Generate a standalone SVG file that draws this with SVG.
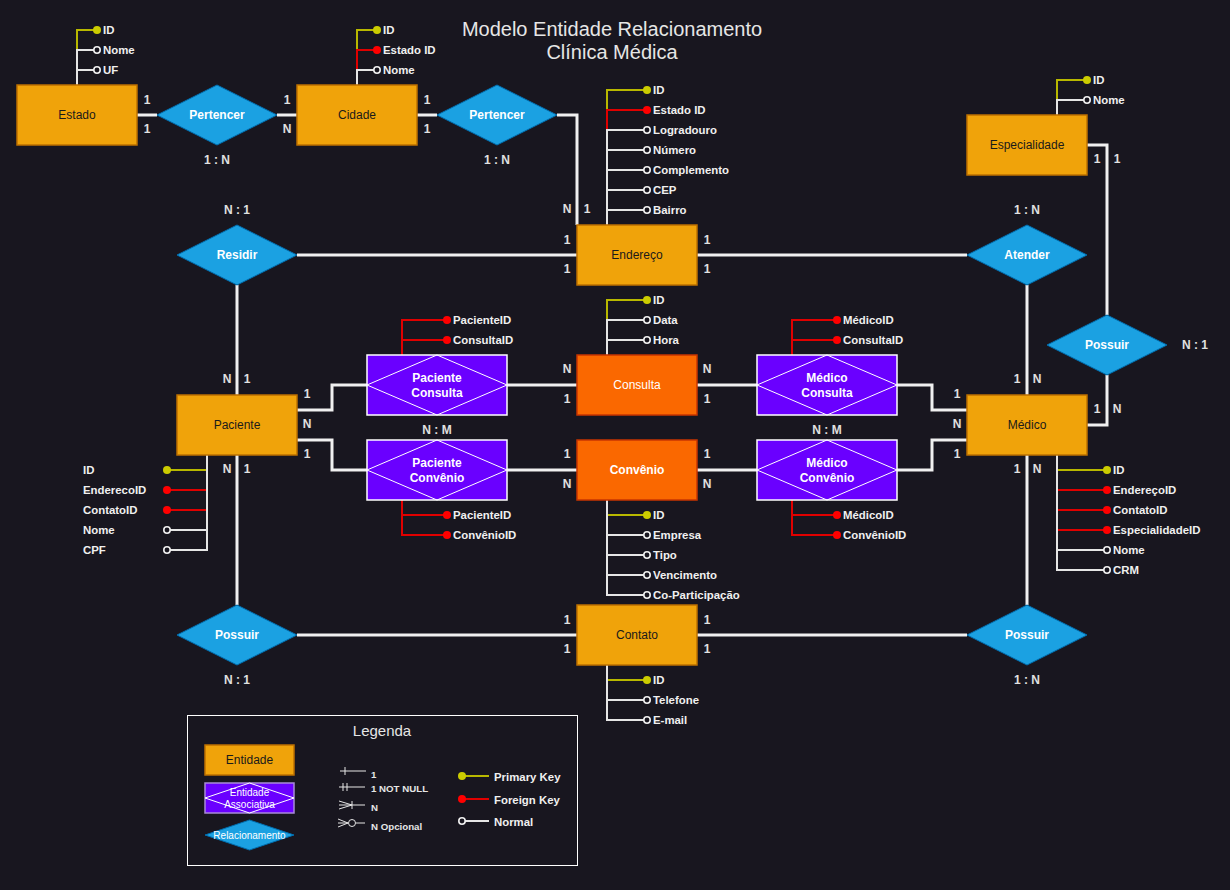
<svg xmlns="http://www.w3.org/2000/svg" width="1230" height="890" viewBox="0 0 1230 890">
<style>
text{font-family:"Liberation Sans",Arial,sans-serif}
.ent{fill:#f0a30a;stroke:#bd7000;stroke-width:1.5}
.ent2{fill:#fa6800;stroke:#c73500;stroke-width:1.5}
.assoc{fill:#6a00ff;stroke:#ffffff;stroke-width:1.5}
.ad{fill:none;stroke:#ffffff;stroke-width:1}
.rel{fill:#1ba1e2;stroke:#006eaf;stroke-width:1}
.conn{fill:none;stroke:#f0f0f0;stroke-width:3}
.pk{fill:none;stroke:#b8b800;stroke-width:2}
.fk{fill:none;stroke:#e00000;stroke-width:2}
.nm{fill:none;stroke:#e6e6e6;stroke-width:2}
.pkd{fill:#cccc00}
.fkd{fill:#ff0000}
.nmd{fill:#18161f;stroke:#f0f0f0;stroke-width:1.6}
.t{font-size:12px;fill:#1a1a1a;text-anchor:middle}
.tw{font-size:12px;fill:#ffffff;font-weight:bold;text-anchor:middle}
.tc{font-size:12px;fill:#ffffff;text-anchor:middle}
.at{font-size:11.4px;fill:#f0f0f0;font-weight:bold}
.card{font-size:12px;fill:#e0e0e0;font-weight:bold;text-anchor:middle}
.sym{fill:none;stroke:#e6e6e6;stroke-width:1}
.st{font-size:9.7px;fill:#e6e6e6;font-weight:bold}
</style>
<rect x="0" y="0" width="1230" height="890" fill="#18161f"/>

<g id="title">
<text x="612" y="36" font-size="20" fill="#e6e6e6" text-anchor="middle">Modelo Entidade Relacionamento</text>
<text x="612" y="59" font-size="20" fill="#e6e6e6" text-anchor="middle">Clínica Médica</text>
</g>

<g id="connectors">
<path class="conn" d="M137 115 H157"/>
<path class="conn" d="M277 115 H297"/>
<path class="conn" d="M417 115 H437"/>
<path class="conn" d="M557 115 H577 V225"/>
<path class="conn" d="M297 255 H577"/>
<path class="conn" d="M697 255 H967"/>
<path class="conn" d="M237 285 V395"/>
<path class="conn" d="M1027 285 V395"/>
<path class="conn" d="M1087 145 H1107 V315"/>
<path class="conn" d="M1107 375 V425 H1087"/>
<path class="conn" d="M237 455 V605"/>
<path class="conn" d="M1027 455 V605"/>
<path class="conn" d="M297 635 H577"/>
<path class="conn" d="M697 635 H967"/>
<path class="conn" d="M297 410 H332 V385 H367"/>
<path class="conn" d="M297 440 H332 V470 H367"/>
<path class="conn" d="M507 385 H577"/>
<path class="conn" d="M507 470 H577"/>
<path class="conn" d="M697 385 H757"/>
<path class="conn" d="M697 470 H757"/>
<path class="conn" d="M897 385 H932 V410 H967"/>
<path class="conn" d="M897 470 H932 V440 H967"/>
</g>

<g id="cardinalities">
<text class="card" x="147" y="104">1</text><text class="card" x="147" y="133">1</text>
<text class="card" x="287" y="104">1</text><text class="card" x="287" y="133">N</text>
<text class="card" x="217" y="164">1 : N</text>
<text class="card" x="427" y="104">1</text><text class="card" x="427" y="133">1</text>
<text class="card" x="497" y="164">1 : N</text>
<text class="card" x="567" y="213">N</text><text class="card" x="587" y="213">1</text>
<text class="card" x="567" y="244">1</text><text class="card" x="567" y="273">1</text>
<text class="card" x="707" y="244">1</text><text class="card" x="707" y="273">1</text>
<text class="card" x="237" y="214">N : 1</text>
<text class="card" x="1027" y="214">1 : N</text>
<text class="card" x="1097" y="163">1</text><text class="card" x="1117" y="163">1</text>
<text class="card" x="1195" y="349">N : 1</text>
<text class="card" x="227" y="383">N</text><text class="card" x="247" y="383">1</text>
<text class="card" x="307" y="398">1</text><text class="card" x="307" y="428">N</text><text class="card" x="307" y="458">1</text>
<text class="card" x="227" y="473">N</text><text class="card" x="247" y="473">1</text>
<text class="card" x="567" y="373">N</text><text class="card" x="567" y="403">1</text>
<text class="card" x="567" y="458">1</text><text class="card" x="567" y="488">N</text>
<text class="card" x="437" y="434">N : M</text>
<text class="card" x="707" y="373">N</text><text class="card" x="707" y="403">1</text>
<text class="card" x="707" y="458">1</text><text class="card" x="707" y="488">N</text>
<text class="card" x="827" y="434">N : M</text>
<text class="card" x="957" y="398">1</text><text class="card" x="957" y="428">N</text><text class="card" x="957" y="458">1</text>
<text class="card" x="1017" y="383">1</text><text class="card" x="1037" y="383">N</text>
<text class="card" x="1097" y="413">1</text><text class="card" x="1117" y="413">N</text>
<text class="card" x="1017" y="473">1</text><text class="card" x="1037" y="473">N</text>
<text class="card" x="567" y="624">1</text><text class="card" x="567" y="653">1</text>
<text class="card" x="707" y="624">1</text><text class="card" x="707" y="653">1</text>
<text class="card" x="237" y="684">N : 1</text>
<text class="card" x="1027" y="684">1 : N</text>
</g>

<g id="estado">
<path class="pk" d="M77 85 V30 H97"/><path class="nm" d="M77 85 V50 H97"/><path class="nm" d="M77 85 V70 H97"/>
<circle class="pkd" cx="97" cy="30" r="4"/><circle class="nmd" cx="97" cy="50" r="3.2"/><circle class="nmd" cx="97" cy="70" r="3.2"/>
<text class="at" x="103" y="33.5">ID</text><text class="at" x="103" y="53.5">Nome</text><text class="at" x="103" y="73.5">UF</text>
<rect class="ent" x="17" y="85" width="120" height="60"/>
<text class="t" x="77" y="119">Estado</text>
</g>

<g id="pertencer1">
<polygon class="rel" points="157,115 217,85 277,115 217,145"/>
<text class="tw" x="217" y="119">Pertencer</text>
</g>

<g id="cidade">
<path class="pk" d="M357 85 V30 H377"/><path class="fk" d="M357 85 V50 H377"/><path class="nm" d="M357 85 V70 H377"/>
<circle class="pkd" cx="377" cy="30" r="4"/><circle class="fkd" cx="377" cy="50" r="4"/><circle class="nmd" cx="377" cy="70" r="3.2"/>
<text class="at" x="383" y="33.5">ID</text><text class="at" x="383" y="53.5">Estado ID</text><text class="at" x="383" y="73.5">Nome</text>
<rect class="ent" x="297" y="85" width="120" height="60"/>
<text class="t" x="357" y="119">Cidade</text>
</g>

<g id="pertencer2">
<polygon class="rel" points="437,115 497,85 557,115 497,145"/>
<text class="tw" x="497" y="119">Pertencer</text>
</g>

<g id="endereco">
<path class="pk" d="M607 225 V90 H647"/>
<path class="fk" d="M607 225 V110 H647"/>
<path class="nm" d="M607 225 V130 H647"/>
<path class="nm" d="M607 225 V150 H647"/>
<path class="nm" d="M607 225 V170 H647"/>
<path class="nm" d="M607 225 V190 H647"/>
<path class="nm" d="M607 225 V210 H647"/>
<circle class="pkd" cx="647" cy="90" r="4"/><circle class="fkd" cx="647" cy="110" r="4"/>
<circle class="nmd" cx="647" cy="130" r="3.2"/><circle class="nmd" cx="647" cy="150" r="3.2"/><circle class="nmd" cx="647" cy="170" r="3.2"/><circle class="nmd" cx="647" cy="190" r="3.2"/><circle class="nmd" cx="647" cy="210" r="3.2"/>
<text class="at" x="653" y="93.5">ID</text><text class="at" x="653" y="113.5">Estado ID</text><text class="at" x="653" y="133.5">Logradouro</text><text class="at" x="653" y="153.5">Número</text><text class="at" x="653" y="173.5">Complemento</text><text class="at" x="653" y="193.5">CEP</text><text class="at" x="653" y="213.5">Bairro</text>
<rect class="ent" x="577" y="225" width="120" height="60"/>
<text class="t" x="637" y="259">Endereço</text>
</g>

<g id="especialidade">
<path class="pk" d="M1057 115 V80 H1087"/><path class="nm" d="M1057 115 V100 H1087"/>
<circle class="pkd" cx="1087" cy="80" r="4"/><circle class="nmd" cx="1087" cy="100" r="3.2"/>
<text class="at" x="1093" y="83.5">ID</text><text class="at" x="1093" y="103.5">Nome</text>
<rect class="ent" x="967" y="115" width="120" height="60"/>
<text class="t" x="1027" y="149">Especialidade</text>
</g>

<g id="residir">
<polygon class="rel" points="177,255 237,225 297,255 237,285"/>
<text class="tw" x="237" y="259">Residir</text>
</g>

<g id="atender">
<polygon class="rel" points="967,255 1027,225 1087,255 1027,285"/>
<text class="tw" x="1027" y="259">Atender</text>
</g>

<g id="possuir-especialidade">
<polygon class="rel" points="1047,345 1107,315 1167,345 1107,375"/>
<text class="tw" x="1107" y="349">Possuir</text>
</g>

<g id="consulta">
<path class="pk" d="M607 355 V300 H647"/><path class="nm" d="M607 355 V320 H647"/><path class="nm" d="M607 355 V340 H647"/>
<circle class="pkd" cx="647" cy="300" r="4"/><circle class="nmd" cx="647" cy="320" r="3.2"/><circle class="nmd" cx="647" cy="340" r="3.2"/>
<text class="at" x="653" y="303.5">ID</text><text class="at" x="653" y="323.5">Data</text><text class="at" x="653" y="343.5">Hora</text>
<rect class="ent2" x="577" y="355" width="120" height="60"/>
<text class="tc" x="637" y="389">Consulta</text>
</g>

<g id="convenio">
<path class="pk" d="M607 500 V515 H647"/><path class="nm" d="M607 500 V535 H647"/><path class="nm" d="M607 500 V555 H647"/><path class="nm" d="M607 500 V575 H647"/><path class="nm" d="M607 500 V595 H647"/>
<circle class="pkd" cx="647" cy="515" r="4"/><circle class="nmd" cx="647" cy="535" r="3.2"/><circle class="nmd" cx="647" cy="555" r="3.2"/><circle class="nmd" cx="647" cy="575" r="3.2"/><circle class="nmd" cx="647" cy="595" r="3.2"/>
<text class="at" x="653" y="518.5">ID</text><text class="at" x="653" y="538.5">Empresa</text><text class="at" x="653" y="558.5">Tipo</text><text class="at" x="653" y="578.5">Vencimento</text><text class="at" x="653" y="598.5">Co-Participação</text>
<rect class="ent2" x="577" y="440" width="120" height="60"/>
<text class="tw" x="637" y="474">Convênio</text>
</g>

<g id="paciente-consulta">
<path class="fk" d="M402 355 V320 H447"/><path class="fk" d="M402 355 V340 H447"/>
<circle class="fkd" cx="447" cy="320" r="4"/><circle class="fkd" cx="447" cy="340" r="4"/>
<text class="at" x="453" y="323.5">PacienteID</text><text class="at" x="453" y="343.5">ConsultaID</text>
<rect class="assoc" x="367" y="355" width="140" height="60"/>
<polygon class="ad" points="367,385 437,355 507,385 437,415"/>
<text class="tw" x="437" y="382">Paciente</text><text class="tw" x="437" y="397">Consulta</text>
</g>

<g id="paciente-convenio">
<path class="fk" d="M402 500 V515 H447"/><path class="fk" d="M402 500 V535 H447"/>
<circle class="fkd" cx="447" cy="515" r="4"/><circle class="fkd" cx="447" cy="535" r="4"/>
<text class="at" x="453" y="518.5">PacienteID</text><text class="at" x="453" y="538.5">ConvênioID</text>
<rect class="assoc" x="367" y="440" width="140" height="60"/>
<polygon class="ad" points="367,470 437,440 507,470 437,500"/>
<text class="tw" x="437" y="467">Paciente</text><text class="tw" x="437" y="482">Convênio</text>
</g>

<g id="medico-consulta">
<path class="fk" d="M792 355 V320 H837"/><path class="fk" d="M792 355 V340 H837"/>
<circle class="fkd" cx="837" cy="320" r="4"/><circle class="fkd" cx="837" cy="340" r="4"/>
<text class="at" x="843" y="323.5">MédicoID</text><text class="at" x="843" y="343.5">ConsultaID</text>
<rect class="assoc" x="757" y="355" width="140" height="60"/>
<polygon class="ad" points="757,385 827,355 897,385 827,415"/>
<text class="tw" x="827" y="382">Médico</text><text class="tw" x="827" y="397">Consulta</text>
</g>

<g id="medico-convenio">
<path class="fk" d="M792 500 V515 H837"/><path class="fk" d="M792 500 V535 H837"/>
<circle class="fkd" cx="837" cy="515" r="4"/><circle class="fkd" cx="837" cy="535" r="4"/>
<text class="at" x="843" y="518.5">MédicoID</text><text class="at" x="843" y="538.5">ConvênioID</text>
<rect class="assoc" x="757" y="440" width="140" height="60"/>
<polygon class="ad" points="757,470 827,440 897,470 827,500"/>
<text class="tw" x="827" y="467">Médico</text><text class="tw" x="827" y="482">Convênio</text>
</g>

<g id="paciente">
<path class="pk" d="M207 455 V470 H167"/><path class="fk" d="M207 455 V490 H167"/><path class="fk" d="M207 455 V510 H167"/><path class="nm" d="M207 455 V530 H167"/><path class="nm" d="M207 455 V550 H167"/>
<circle class="pkd" cx="167" cy="470" r="4"/><circle class="fkd" cx="167" cy="490" r="4"/><circle class="fkd" cx="167" cy="510" r="4"/><circle class="nmd" cx="167" cy="530" r="3.2"/><circle class="nmd" cx="167" cy="550" r="3.2"/>
<text class="at" x="83" y="473.5">ID</text><text class="at" x="83" y="493.5">EnderecoID</text><text class="at" x="83" y="513.5">ContatoID</text><text class="at" x="83" y="533.5">Nome</text><text class="at" x="83" y="553.5">CPF</text>
<rect class="ent" x="177" y="395" width="120" height="60"/>
<text class="t" x="237" y="429">Paciente</text>
</g>

<g id="medico">
<path class="pk" d="M1057 455 V470 H1107"/><path class="fk" d="M1057 455 V490 H1107"/><path class="fk" d="M1057 455 V510 H1107"/><path class="fk" d="M1057 455 V530 H1107"/><path class="nm" d="M1057 455 V550 H1107"/><path class="nm" d="M1057 455 V570 H1107"/>
<circle class="pkd" cx="1107" cy="470" r="4"/><circle class="fkd" cx="1107" cy="490" r="4"/><circle class="fkd" cx="1107" cy="510" r="4"/><circle class="fkd" cx="1107" cy="530" r="4"/><circle class="nmd" cx="1107" cy="550" r="3.2"/><circle class="nmd" cx="1107" cy="570" r="3.2"/>
<text class="at" x="1113" y="473.5">ID</text><text class="at" x="1113" y="493.5">EndereçoID</text><text class="at" x="1113" y="513.5">ContatoID</text><text class="at" x="1113" y="533.5">EspecialidadeID</text><text class="at" x="1113" y="553.5">Nome</text><text class="at" x="1113" y="573.5">CRM</text>
<rect class="ent" x="967" y="395" width="120" height="60"/>
<text class="t" x="1027" y="429">Médico</text>
</g>

<g id="possuir-paciente">
<polygon class="rel" points="177,635 237,605 297,635 237,665"/>
<text class="tw" x="237" y="639">Possuir</text>
</g>

<g id="contato">
<path class="pk" d="M607 665 V680 H647"/><path class="nm" d="M607 665 V700 H647"/><path class="nm" d="M607 665 V720 H647"/>
<circle class="pkd" cx="647" cy="680" r="4"/><circle class="nmd" cx="647" cy="700" r="3.2"/><circle class="nmd" cx="647" cy="720" r="3.2"/>
<text class="at" x="653" y="683.5">ID</text><text class="at" x="653" y="703.5">Telefone</text><text class="at" x="653" y="723.5">E-mail</text>
<rect class="ent" x="577" y="605" width="120" height="60"/>
<text class="t" x="637" y="639">Contato</text>
</g>

<g id="possuir-medico">
<polygon class="rel" points="967,635 1027,605 1087,635 1027,665"/>
<text class="tw" x="1027" y="639">Possuir</text>
</g>

<g id="legenda">
<rect x="187.5" y="715.5" width="390" height="150" fill="#18161f" stroke="#ffffff" stroke-width="1"/>
<text x="382" y="736" font-size="15" fill="#e6e6e6" text-anchor="middle">Legenda</text>
<rect class="ent" x="205" y="745" width="89" height="30"/>
<text class="t" x="249.5" y="764">Entidade</text>
<rect x="205" y="783" width="89" height="30" fill="#6a00ff" stroke="#a88bd8" stroke-width="1.5"/>
<polygon class="ad" points="205,798 249.5,783 294,798 249.5,813"/>
<text x="249.5" y="796" font-size="10" fill="#ffffff" text-anchor="middle">Entidade</text>
<text x="249.5" y="808" font-size="10" fill="#ffffff" text-anchor="middle">Associativa</text>
<polygon class="rel" points="205,835 249.5,820 294,835 249.5,850"/>
<text x="249.5" y="839" font-size="10" fill="#ffffff" text-anchor="middle">Relacionamento</text>
<path class="sym" d="M340 771 H366 M345 767 V775"/>
<path class="sym" d="M339 787 H365 M343 783 V791 M347 783 V791"/>
<path class="sym" d="M339 805 H365 M352 805 L339 801 M352 805 L339 809 M352 801 V809"/>
<path class="sym" d="M348 823 L338 819 M348 823 L338 827 M338 823 H348 M356 823 H365"/>
<circle class="sym" cx="352" cy="823" r="3.5"/>
<text class="st" x="371" y="778">1</text>
<text class="st" x="371" y="792">1 NOT NULL</text>
<text class="st" x="371" y="811">N</text>
<text class="st" x="371" y="830">N Opcional</text>
<path class="pk" d="M462 776 H489"/><circle class="pkd" cx="462" cy="776" r="4"/>
<text class="at" x="494" y="781">Primary Key</text>
<path class="fk" d="M462 799 H489"/><circle class="fkd" cx="462" cy="799" r="4"/>
<text class="at" x="494" y="804">Foreign Key</text>
<path class="nm" d="M462 821 H489"/><circle class="nmd" cx="462" cy="821" r="3.2"/>
<text class="at" x="494" y="826">Normal</text>
</g>
</svg>
